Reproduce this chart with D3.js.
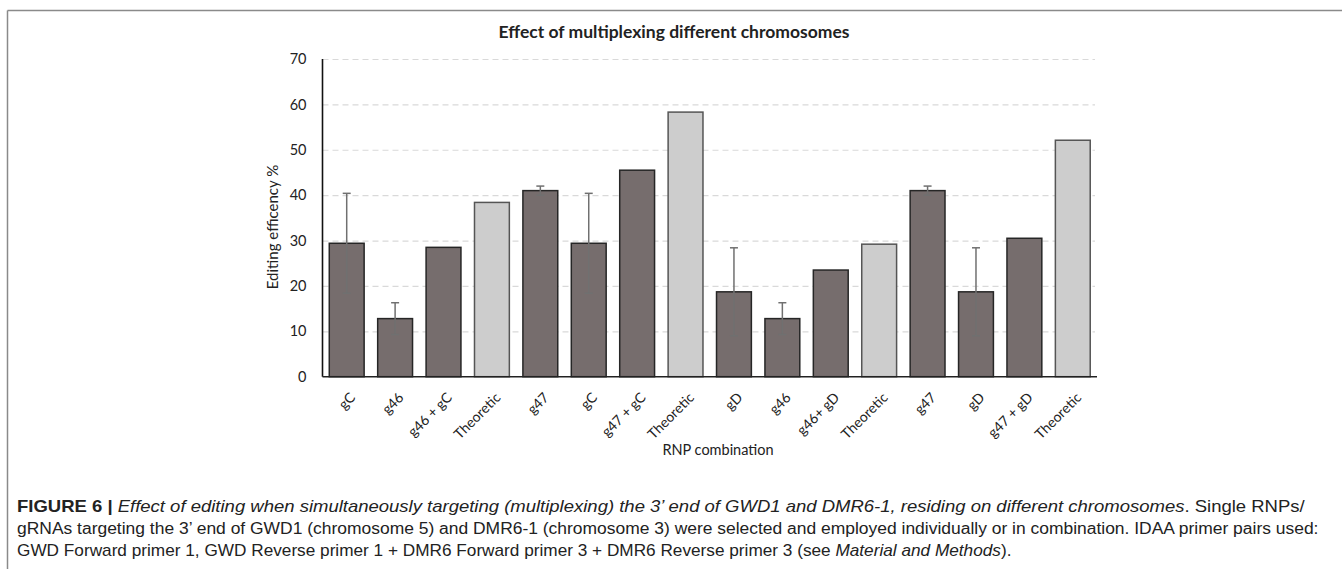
<!DOCTYPE html>
<html>
<head>
<meta charset="utf-8">
<script src="https://cdn.jsdelivr.net/npm/d3@7"></script>
<style>
body { margin: 0; background: #fff; }
svg text { fill: #222; }
</style>
</head>
<body>
<div id="chart"></div>
<script>
var labels = ["gC", "g46", "g46 + gC", "Theoretic", "g47", "gC", "g47 + gC", "Theoretic",
    "gD", "g46", "g46+ gD", "Theoretic", "g47", "gD", "g47 + gD", "Theoretic"];
var values = [29.4, 12.8, 28.5, 38.4, 41.0, 29.4, 45.5, 58.3, 18.7, 12.8, 23.5, 29.2, 41.0, 18.7, 30.5, 52.1];
var errors = [11, 3.5, null, null, 1, 11, null, null, 9.7, 3.5, null, null, 1, 9.7, null, null];
var yTicks = [0, 10, 20, 30, 40, 50, 60, 70];

var W = 1342, H = 569;
var m = { left: 322.5, right: 1097, top: 59, bottom: 376.7 };
var font = "Lato, 'Open Sans', sans-serif";

var svg = d3.select("#chart").append("svg")
    .attr("width", W)
    .attr("height", H);

// frame lines
svg.append("line").attr("x1", 7.5).attr("x2", W).attr("y1", 10.5).attr("y2", 10.5)
    .attr("stroke", "#8a8a8a").attr("stroke-width", 1.5);
svg.append("line").attr("x1", 7.5).attr("x2", 7.5).attr("y1", 10.5).attr("y2", H)
    .attr("stroke", "#8a8a8a").attr("stroke-width", 1.5);

var x = d3.scaleBand()
    .domain(d3.range(labels.length))
    .range([m.left, m.right])
    .paddingInner(0.28)
    .paddingOuter(0.14);

var y = d3.scaleLinear()
    .domain([0, 70])
    .range([m.bottom, m.top]);

// gridlines
var grid = svg.append("g")
    .attr("transform", "translate(" + m.left + ",0)")
    .call(d3.axisLeft(y).tickValues(yTicks.slice(1)).tickSize(-(m.right - 2 - m.left)).tickFormat(""));
grid.select(".domain").remove();
grid.selectAll("line")
    .attr("stroke", "#d9d9d9")
    .attr("stroke-width", 1.2)
    .attr("stroke-dasharray", "6,4");

// y axis labels
var yAxis = svg.append("g")
    .attr("transform", "translate(" + (m.left - 16) + ",0)")
    .call(d3.axisLeft(y).tickValues(yTicks).tickSize(0).tickPadding(0));
yAxis.select(".domain").remove();
yAxis.selectAll("text")
    .style("font-family", font)
    .style("font-size", "14.5px")
    .attr("fill", "#222");

// bars
svg.append("g").selectAll("rect")
    .data(values)
    .enter()
    .append("rect")
    .attr("x", function (d, i) { return x(i); })
    .attr("y", function (d) { return y(d); })
    .attr("width", x.bandwidth())
    .attr("height", function (d) { return y(0) - y(d); })
    .attr("fill", function (d, i) { return labels[i] == "Theoretic" ? "#cdcdcd" : "#766d6d"; })
    .attr("stroke", function (d, i) { return labels[i] == "Theoretic" ? "#555" : "#262626"; })
    .attr("stroke-width", 1.5);

// error bars
var eb = svg.append("g").selectAll("g")
    .data(values.map(function (v, i) { return { v: v, e: errors[i], i: i }; })
        .filter(function (d) { return d.e != null; }))
    .enter()
    .append("g")
    .attr("stroke", "#707070")
    .attr("stroke-width", 1.5);
eb.append("line")
    .attr("x1", function (d) { return x(d.i) + x.bandwidth() / 2; })
    .attr("x2", function (d) { return x(d.i) + x.bandwidth() / 2; })
    .attr("y1", function (d) { return y(d.v + d.e); })
    .attr("y2", function (d) { return y(d.v - d.e); });
[1, -1].forEach(function (s) {
    eb.append("line")
        .attr("x1", function (d) { return x(d.i) + x.bandwidth() / 2 - 4; })
        .attr("x2", function (d) { return x(d.i) + x.bandwidth() / 2 + 4; })
        .attr("y1", function (d) { return y(d.v + s * d.e); })
        .attr("y2", function (d) { return y(d.v + s * d.e); });
});

// axis lines
svg.append("line").attr("x1", m.left).attr("x2", m.left).attr("y1", m.top).attr("y2", m.bottom)
    .attr("stroke", "#111").attr("stroke-width", 1.6);
svg.append("line").attr("x1", m.left).attr("x2", m.right).attr("y1", m.bottom).attr("y2", m.bottom)
    .attr("stroke", "#222").attr("stroke-width", 1.6);

// x labels
svg.append("g").selectAll("text")
    .data(labels)
    .enter()
    .append("text")
    .attr("transform", function (d, i) {
        return "translate(" + (x(i) + x.bandwidth() / 2 + 6) + "," + 395 + ") rotate(-45)";
    })
    .attr("text-anchor", "end")
    .attr("dy", "0.35em")
    .style("font-family", font)
    .style("font-size", "14px")
    .text(function (d) { return d; });

// titles
svg.append("text")
    .attr("x", 674).attr("y", 38)
    .attr("text-anchor", "middle")
    .style("font-family", font)
    .style("font-weight", "bold")
    .style("font-size", "17.5px")
    .text("Effect of multiplexing different chromosomes");

svg.append("text")
    .attr("transform", "translate(273,227) rotate(-90)")
    .attr("text-anchor", "middle")
    .attr("dy", "0.35em")
    .style("font-family", font)
    .style("font-size", "15px")
    .text("Editing efficency %");

svg.append("text")
    .attr("x", 718).attr("y", 455)
    .attr("text-anchor", "middle")
    .style("font-family", font)
    .style("font-size", "14.5px")
    .text("RNP combination");

// caption
var capLines = [
    { y: 512, w: 1289, parts: [["FIGURE 6 | ", "b"], ["Effect of editing when simultaneously targeting (multiplexing) the 3’ end of GWD1 and DMR6-1, residing on different chromosomes", "i"], [". Single RNPs/", "n"]] },
    { y: 534, w: 1302, parts: [["gRNAs targeting the 3’ end of GWD1 (chromosome 5) and DMR6-1 (chromosome 3) were selected and employed individually or in combination. IDAA primer pairs used:", "n"]] },
    { y: 556, w: 995, parts: [["GWD Forward primer 1, GWD Reverse primer 1 + DMR6 Forward primer 3 + DMR6 Reverse primer 3 (see ", "n"], ["Material and Methods", "i"], [").", "n"]] }
];
capLines.forEach(function (ln) {
    var g = svg.append("g").attr("transform", "translate(17," + ln.y + ")");
    var t = g.append("text")
        .style("font-family", "'Liberation Sans Narrow', 'Liberation Sans', Arial, sans-serif")
        .style("font-size", "16px")
        .attr("fill", "#222");
    ln.parts.forEach(function (p) {
        t.append("tspan")
            .style("font-weight", p[1] == "b" ? "bold" : "normal")
            .style("font-style", p[1] == "i" ? "italic" : "normal")
            .text(p[0]);
    });
    var nat = t.node().getComputedTextLength();
    g.attr("transform", "translate(17," + ln.y + ") scale(" + (ln.w / nat) + ",1)");
});
</script>
</body>
</html>
